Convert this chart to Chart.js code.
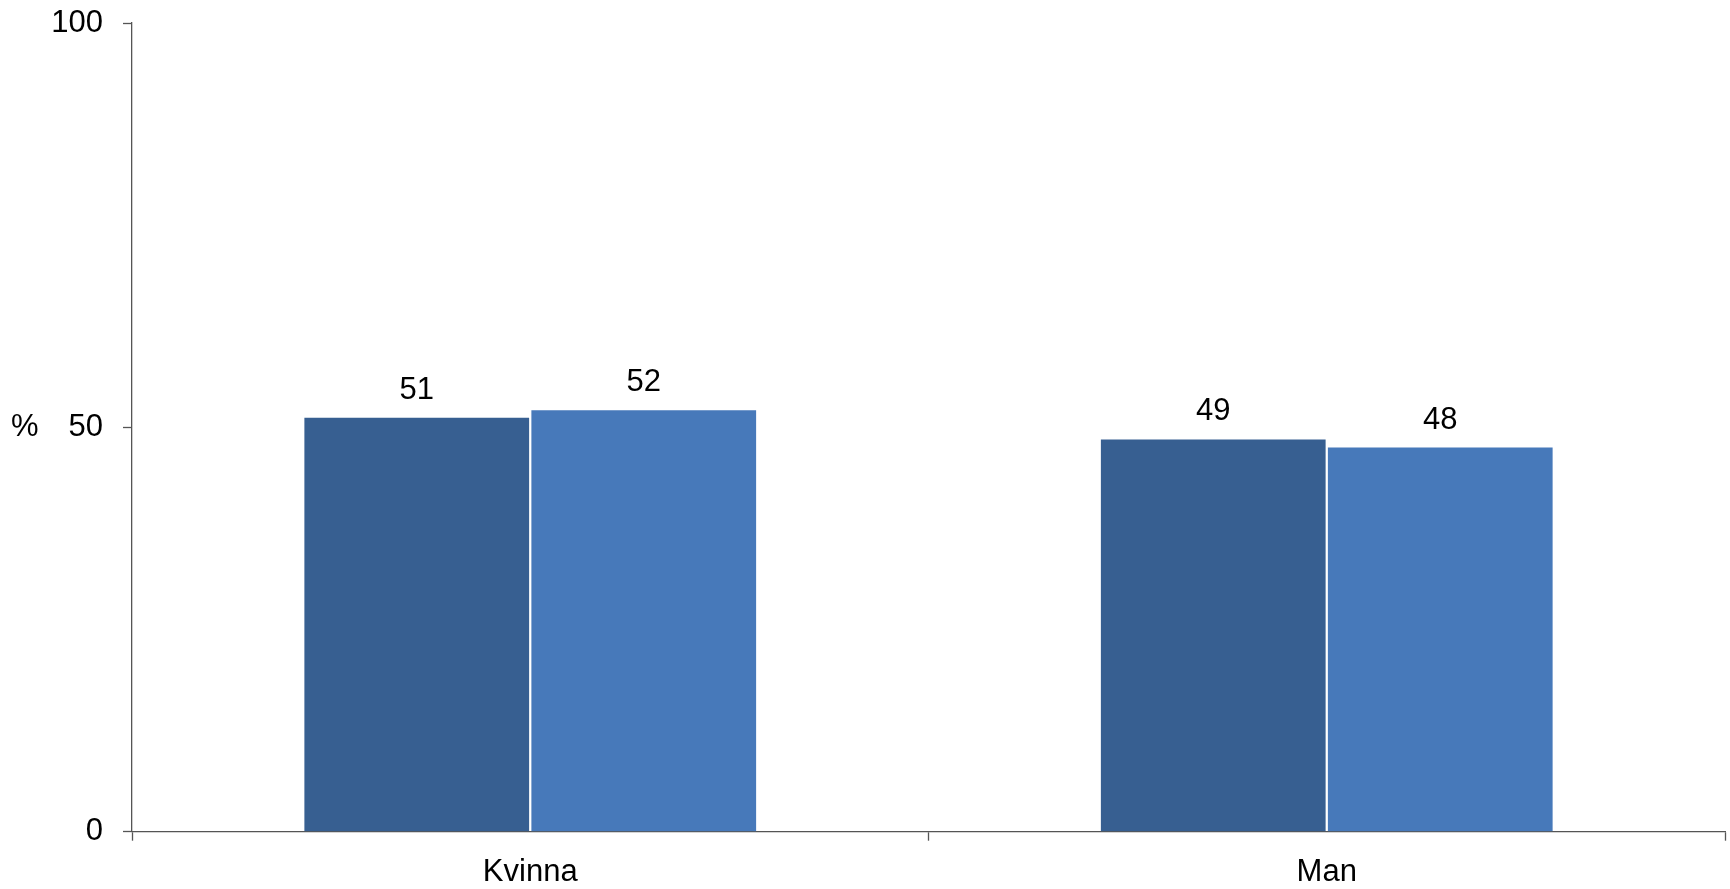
<!DOCTYPE html>
<html>
<head>
<meta charset="utf-8">
<script src="https://cdn.jsdelivr.net/npm/chart.js@4/dist/chart.umd.min.js"></script>
<style>
  body { margin: 0; background: #fff; }
  canvas { display: block; }
</style>
</head>
<body>
<canvas id="grafico" width="1730" height="889"></canvas>
<script>
const kategorier = ["Kvinna", "Man"];
const serie1 = [51.2, 48.5];
const serie2 = [52.1, 47.5];
const yTicks = [0, 50, 100];
const enhet = "%";

const fonte = { family: "'Liberation Sans', Arial, sans-serif", size: 31 };
const fonteCss = "31px 'Liberation Sans', Arial, sans-serif";
const corEixo = "#555555";

// valores acima das barras
const rotulos = {
    id: "rotulos",
    afterDatasetsDraw(chart) {
        const c = chart.ctx;
        c.save();
        c.font = fonteCss;
        c.fillStyle = "#000";
        c.textAlign = "center";
        c.textBaseline = "alphabetic";
        chart.data.datasets.forEach((ds, i) => {
            chart.getDatasetMeta(i).data.forEach((bar, j) => {
                c.fillText(Math.round(ds.data[j]), bar.x, bar.y - 19);
            });
        });
        c.restore();
    }
};

// "%" horizontal ao lado do eixo y
const unidade = {
    id: "unidade",
    afterDraw(chart) {
        const c = chart.ctx;
        const y = chart.scales.y.getPixelForValue(50);
        c.save();
        c.font = fonteCss;
        c.fillStyle = "#000";
        c.textAlign = "left";
        c.textBaseline = "middle";
        c.fillText(enhet, 11, y);
        c.restore();
    }
};

new Chart(document.getElementById("grafico").getContext("2d"), {
    type: "bar",
    data: {
        labels: kategorier,
        datasets: [
            { data: serie1, backgroundColor: "#375F91" },
            { data: serie2, backgroundColor: "#4779BA" }
        ]
    },
    options: {
        responsive: false,
        animation: false,
        layout: { padding: { top: 23, right: 5, left: 0, bottom: 0 } },
        datasets: { bar: { barPercentage: 0.99, categoryPercentage: 0.57 } },
        plugins: { legend: { display: false }, tooltip: { enabled: false } },
        scales: {
            x: {
                afterFit(s) { s.height = 57.3; s.paddingLeft = 0; s.paddingRight = 0; },
                grid: { drawOnChartArea: false, tickLength: 9, color: corEixo, tickWidth: 1.3 },
                border: { color: corEixo, width: 1.3 },
                ticks: { font: fonte, color: "#000", padding: 13 }
            },
            y: {
                min: 0,
                max: 100,
                afterFit(s) { s.width = 132; s.paddingTop = 0; s.paddingBottom = 0; },
                afterBuildTicks(s) { s.ticks = yTicks.map(v => ({ value: v })); },
                grid: { drawOnChartArea: false, tickLength: 9, color: corEixo, tickWidth: 1.3 },
                border: { color: corEixo, width: 1.3 },
                ticks: { font: fonte, color: "#000", padding: 20 }
            }
        }
    },
    plugins: [rotulos, unidade]
});
</script>
</body>
</html>
